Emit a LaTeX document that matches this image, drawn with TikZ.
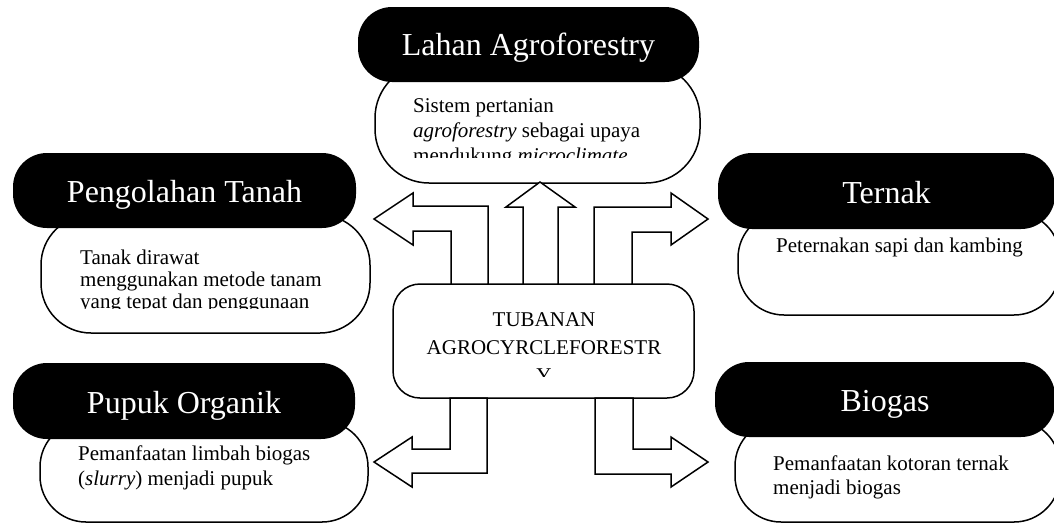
\documentclass[tikz,border=0pt]{standalone}
\usepackage{fontspec}
\setmainfont{Liberation Serif}
\begin{document}
\begin{tikzpicture}[x=1pt,y=-1pt,
  wbox/.style={draw=black, line width=1.5pt, fill=white, rounded corners=46pt, inner sep=0pt, minimum width=#1},
  bbox/.style={fill=black, rounded corners=34pt, inner sep=0pt, minimum width=#1},
  cbox/.style={draw=black, line width=1.5pt, fill=white, rounded corners=27pt, inner sep=0pt, minimum width=301pt, minimum height=114pt},
  title/.style={text=white, font=\fontsize{32}{36}\selectfont, anchor=base, inner sep=0pt},
  body/.style={font=\fontsize{21}{24}\selectfont, anchor=base west, inner sep=0pt},
  cbody/.style={font=\fontsize{21}{24}\selectfont, anchor=base, inner sep=0pt},
  barrow/.style={draw=black, line width=1.5pt, fill=white, line join=miter}]
\useasboundingbox (0,0) rectangle (1054,523);

% white description boxes
\node[wbox=325pt, minimum height=119pt, rounded corners=54pt] (lahanW) at (537.5,123.5) {};
\node[wbox=329pt, minimum height=118pt, rounded corners=50pt] (olahW) at (205.5,274) {};
\node[wbox=322pt, minimum height=103pt] (ternakW) at (899,263.5) {};
\node[wbox=328pt, minimum height=101pt] (pupukW) at (204,471.5) {};
\node[wbox=325pt, minimum height=102pt] (biogasW) at (897.5,471) {};

% black title boxes
\node[bbox=341pt, minimum height=75pt] (lahanB) at (528.5,44.5) {};
\node[bbox=343pt, minimum height=75pt] (olahB) at (184.5,190.5) {};
\node[bbox=337pt, minimum height=76pt] (ternakB) at (886.5,191) {};
\node[bbox=342pt, minimum height=76pt] (pupukB) at (184,401) {};
\node[bbox=340pt, minimum height=75pt] (biogasB) at (885,399.5) {};

% centre box
\node[cbox] (pusat) at (543.5,341) {};

% block arrows
\draw[barrow] (451,284) -- (451,231) -- (413,231) -- (413,245) -- (374,219) -- (413,193) -- (413,206) -- (488,206) -- (488,284) -- cycle;
\draw[barrow] (523,284) -- (523,207) -- (506,207) -- (540,182) -- (575,207) -- (558,207) -- (558,284) -- cycle;
\draw[barrow] (594,284) -- (594,207) -- (671,207) -- (671,193) -- (708,219) -- (671,245) -- (671,232) -- (632,232) -- (632,284) -- cycle;
\draw[barrow] (450,398) -- (450,449) -- (412,449) -- (412,437) -- (374,462) -- (412,487) -- (412,473) -- (487,473) -- (487,398) -- cycle;
\draw[barrow] (595,398) -- (595,474) -- (671,474) -- (671,487) -- (708,462) -- (671,437) -- (671,449) -- (633,449) -- (633,398) -- cycle;

% titles
\node[title] (lahanT) at (528.5,55.5) {Lahan Agroforestry};
\node[title] (olahT) at (184.5,202.5) {Pengolahan Tanah};
\node[title] (ternakT) at (886.5,203) {Ternak};
\node[title] (pupukT) at (184,413) {Pupuk Organik};
\node[title] (biogasT) at (885,411) {Biogas};

% body texts
\begin{scope}
\clip (375,64) rectangle (700,157);
\node[body] (lahan1) at (413,112) {Sistem pertanian};
\node[body] (lahan2) at (413,137) {\textit{agroforestry} sebagai upaya};
\node[body] (lahan3) at (413,162) {mendukung \textit{microclimate}};
\end{scope}

\begin{scope}
\clip (41,215) rectangle (370,308.5);
\node[body] (olah1) at (80,264) {Tanak dirawat};
\node[body] (olah2) at (80,286) {menggunakan metode tanam};
\node[body] (olah3) at (80,308) {yang tepat dan penggunaan};
\end{scope}

\node[body] (ternak1) at (776,252) {Peternakan sapi dan kambing};

\node[body] (pupuk1) at (78,460) {Pemanfaatan limbah biogas};
\node[body] (pupuk2) at (78,485) {(\textit{slurry}) menjadi pupuk};

\node[body] (biogas1) at (773,470) {Pemanfaatan kotoran ternak};
\node[body] (biogas2) at (773,494) {menjadi biogas};

\begin{scope}
\clip (393,284) rectangle (694,376);
\node[cbody] (pusat1) at (544,326) {TUBANAN};
\node[cbody] (pusat2) at (544,354) {AGROCYRCLEFORESTR};
\node[cbody] (pusat3) at (544,382) {Y};
\end{scope}
\end{tikzpicture}
\end{document}
